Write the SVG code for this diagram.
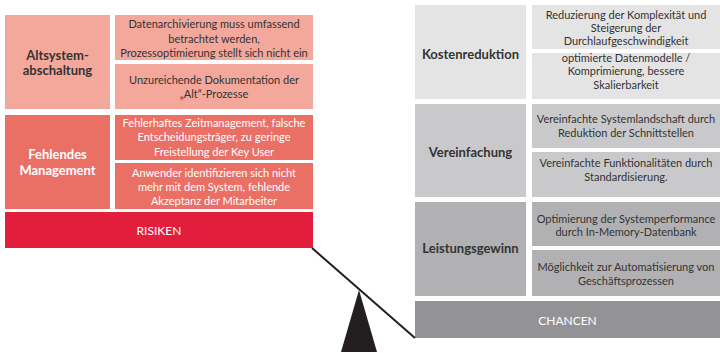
<svg xmlns="http://www.w3.org/2000/svg" width="720" height="353" viewBox="0 0 720 353">
<style>
text{font-family:Lato,"Open Sans","Liberation Sans",sans-serif;text-anchor:middle}
.t{font-size:11px;fill:#333}
.tw{font-size:11px;fill:#fff}
.h{font-size:13px;font-weight:bold;fill:#333}
.hw{font-size:13px;font-weight:bold;fill:#fff}
.b{font-size:12px;fill:#fff}
.c1{fill:#F3A89B}.c2{fill:#EA7066}.c3{fill:#E31E3C}
.g1{fill:#E4E4E5}.g2{fill:#C9C9CB}.g3{fill:#B1B1B4}.g4{fill:#939396}
</style>
<rect width="720" height="353" fill="#fff"/>
<g id="altsystem">
<rect class="c1" x="5" y="15" width="105" height="94"/>
<text class="h" x="57.5" y="59.5">Altsystem-</text>
<text class="h" x="57.5" y="75">abschaltung</text>
</g>
<g id="altsystem-1">
<rect class="c1" x="115" y="15" width="198" height="45"/>
<text class="t" x="214" y="28">Datenarchivierung muss umfassend</text>
<text class="t" x="214" y="42.5">betrachtet werden,</text>
<text class="t" x="214" y="57">Prozessoptimierung stellt sich nicht ein</text>
</g>
<g id="altsystem-2">
<rect class="c1" x="115" y="64" width="198" height="45"/>
<text class="t" x="214" y="84">Unzureichende Dokumentation der</text>
<text class="t" x="214" y="97.5">„Alt“-Prozesse</text>
</g>
<g id="management">
<rect class="c2" x="5" y="115" width="105" height="94"/>
<text class="hw" x="57.5" y="159">Fehlendes</text>
<text class="hw" x="57.5" y="175">Management</text>
</g>
<g id="management-1">
<rect class="c2" x="115" y="115" width="198" height="45"/>
<text class="tw" x="214" y="127">Fehlerhaftes Zeitmanagement, falsche</text>
<text class="tw" x="214" y="141">Entscheidungsträger, zu geringe</text>
<text class="tw" x="214" y="155.5">Freistellung der Key User</text>
</g>
<g id="management-2">
<rect class="c2" x="115" y="163" width="198" height="46"/>
<text class="tw" x="214" y="177">Anwender identifizieren sich nicht</text>
<text class="tw" x="214" y="191">mehr mit dem System, fehlende</text>
<text class="tw" x="214" y="204.5">Akzeptanz der Mitarbeiter</text>
</g>
<g id="risiken">
<rect class="c3" x="5" y="212" width="308" height="36"/>
<text class="b" x="159" y="234.5">RISIKEN</text>
</g>
<g id="kosten">
<rect class="g1" x="415" y="5" width="111" height="94"/>
<text class="h" x="470.5" y="58.5">Kostenreduktion</text>
</g>
<g id="kosten-1">
<rect class="g1" x="532" y="5" width="188" height="44"/>
<text class="t" x="626" y="19">Reduzierung der Komplexität und</text>
<text class="t" x="626" y="31.5">Steigerung der</text>
<text class="t" x="626" y="44.5">Durchlaufgeschwindigkeit</text>
</g>
<g id="kosten-2">
<rect class="g1" x="532" y="53" width="188" height="46"/>
<text class="t" x="626" y="61.5">optimierte Datenmodelle /</text>
<text class="t" x="626" y="75">Komprimierung, bessere</text>
<text class="t" x="626" y="89">Skalierbarkeit</text>
</g>
<g id="vereinfachung">
<rect class="g2" x="415" y="104" width="111" height="93"/>
<text class="h" x="470.5" y="156.5">Vereinfachung</text>
</g>
<g id="vereinfachung-1">
<rect class="g2" x="532" y="104" width="188" height="44"/>
<text class="t" x="626" y="122.5">Vereinfachte Systemlandschaft durch</text>
<text class="t" x="626" y="137">Reduktion der Schnittstellen</text>
</g>
<g id="vereinfachung-2">
<rect class="g2" x="532" y="152" width="188" height="45"/>
<text class="t" x="626" y="167">Vereinfachte Funktionalitäten durch</text>
<text class="t" x="626" y="180.5">Standardisierung.</text>
</g>
<g id="leistung">
<rect class="g3" x="415" y="202" width="111" height="94"/>
<text class="h" x="470.5" y="252.5">Leistungsgewinn</text>
</g>
<g id="leistung-1">
<rect class="g3" x="532" y="202" width="188" height="44"/>
<text class="t" x="626" y="222.5">Optimierung der Systemperformance</text>
<text class="t" x="626" y="235.5">durch In-Memory-Datenbank</text>
</g>
<g id="leistung-2">
<rect class="g3" x="532" y="250" width="188" height="46"/>
<text class="t" x="626" y="271">Möglichkeit zur Automatisierung von</text>
<text class="t" x="626" y="284.5">Geschäftsprozessen</text>
</g>
<g id="chancen">
<rect class="g4" x="415" y="301" width="305" height="37"/>
<text class="b" x="567.5" y="324.5">CHANCEN</text>
</g>
<g id="connectors">
<line x1="312" y1="248" x2="415" y2="338" stroke="#231f20" stroke-width="2"/>
</g>
<g id="fulcrum">
<polygon points="359,290 341,352 377,352" fill="#231f20"/>
</g>
</svg>
